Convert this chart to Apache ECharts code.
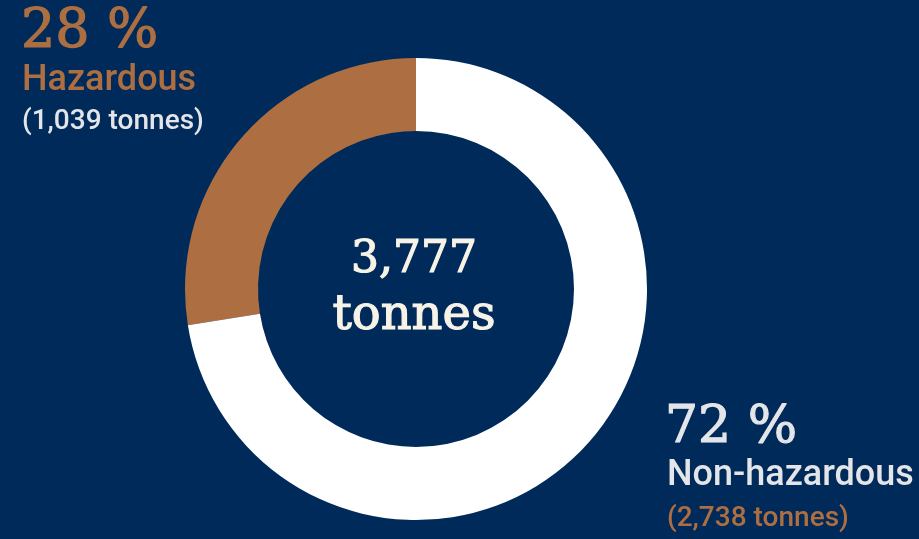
<!DOCTYPE html>
<html>
<head>
<meta charset="utf-8">
<script src="https://cdn.jsdelivr.net/npm/echarts@6/dist/echarts.min.js"></script>
<style>
  html, body { margin: 0; padding: 0; background: #002a59; }
  #chart { width: 919px; height: 539px; }
</style>
</head>
<body>
<div id="chart"></div>
<script>
// Waste breakdown, tonnes
const categories = ['Hazardous', 'Non-hazardous'];
const tonnes = [1039, 2738];
const sliceColors = ['#ad6f42', '#ffffff'];

const total = tonnes.reduce((a, b) => a + b, 0);
const fmt = n => n.toLocaleString('en-US');
const pct = v => Math.round(v / total * 100) + ' %';

const BG = '#002a59';
const BROWN = '#ad6f42';
const LIGHT = '#e3e5e9';
const CREAM = '#f7f3e6';
const SERIF = '"DejaVu Serif", serif';
const SANS = 'Roboto, "Liberation Sans", Arial, sans-serif';

// Text element; serif headings get a thin same-colour stroke for extra weight
function label(text, x, y, size, color, family, weight, align, stroke) {
  const style = {
    text: text, fill: color, align: align || 'left', verticalAlign: 'middle',
    font: 'normal ' + weight + ' ' + size + 'px ' + family
  };
  if (stroke) { style.stroke = color; style.lineWidth = stroke; }
  return { type: 'text', x: x, y: y, silent: true, style: style };
}

const chart = echarts.init(document.getElementById('chart'), null, { renderer: 'canvas' });
chart.setOption({
  backgroundColor: BG,
  animation: false,
  series: [{
    type: 'pie',
    center: [416, 289],
    radius: [158, 231],
    startAngle: 90,
    clockwise: false,
    label: { show: false },
    labelLine: { show: false },
    emphasis: { disabled: true },
    itemStyle: { borderWidth: 0 },
    data: categories.map((c, i) => ({ name: c, value: tonnes[i], itemStyle: { color: sliceColors[i] } }))
  }],
  graphic: [
    label(pct(tonnes[0]), 21, 33, 54, BROWN, SERIF, 400, 'left', 1.2),
    label(categories[0], 22, 81, 36, BROWN, SANS, 500),
    label('(' + fmt(tonnes[0]) + ' tonnes)', 22, 122, 28, LIGHT, SANS, 500),
    label(pct(tonnes[1]), 665, 428, 52, LIGHT, SERIF, 400, 'left', 1.2),
    label(categories[1], 667, 476, 36, LIGHT, SANS, 500),
    label('(' + fmt(tonnes[1]) + ' tonnes)', 667, 519, 28, BROWN, SANS, 500),
    label(fmt(total), 414, 261, 44, CREAM, SERIF, 400, 'center', 1.2),
    label('tonnes', 414, 317, 48, CREAM, SERIF, 400, 'center', 1.2)
  ]
});
</script>
</body>
</html>
